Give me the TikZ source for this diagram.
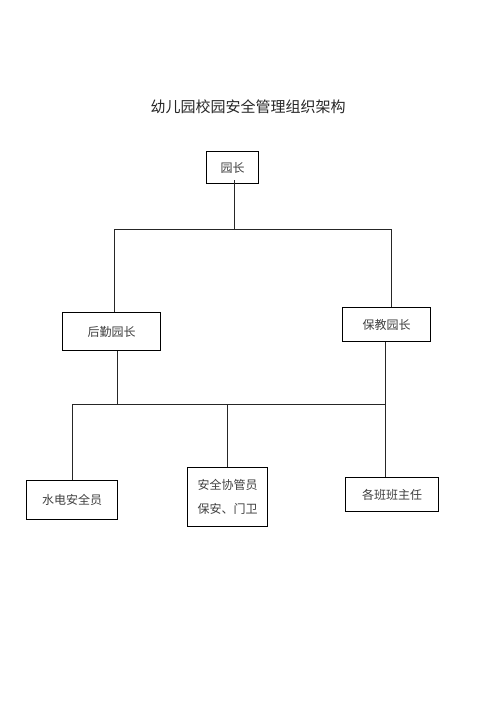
\documentclass[tikz,border=0pt]{standalone}
\usepackage{fontspec}
\newfontfamily\cjk{Noto Sans CJK SC}
\begin{document}
\begin{tikzpicture}[x=1pt,y=-1pt,
  box/.style={draw=black,line width=1.1pt,fill=white,font=\cjk\fontsize{12}{14}\selectfont,text=black!75,inner sep=0pt,anchor=north west},
  ln/.style={draw=black!85,line width=0.9pt}]
\useasboundingbox (0,0) rectangle (496,702);
\node[font=\cjk\fontsize{15}{18}\selectfont,text=black!85] (title) at (248,107) {幼儿园校园安全管理组织架构};
\node[box,minimum width=52pt,minimum height=32pt] (yz) at (206,151) {园长};
\node[box,minimum width=98pt,minimum height=38pt] (hq) at (62,312) {后勤园长};
\node[box,minimum width=88pt,minimum height=34pt] (bj) at (342,307) {保教园长};
\node[box,minimum width=91pt,minimum height=39pt] (sd) at (26,480) {水电安全员};
\node[box,minimum width=80pt,minimum height=59pt,align=center,font=\cjk\fontsize{12}{24}\selectfont] (aq) at (187,467) {安全协管员\\保安、门卫};
\node[box,minimum width=93pt,minimum height=34pt] (bz) at (345,477) {各班班主任};
\coordinate (j1) at (234.5,229);
\coordinate (jl) at (114,229);
\coordinate (jr) at (391,229);
\coordinate (j2) at (117,404);
\coordinate (k1) at (72,404);
\coordinate (k3) at (385,404);
\draw[ln] ([yshift=4pt]j1 |- yz.south) -- (j1);
\draw[ln] (jl) -- (jr);
\draw[ln] (jl) -- (jl |- hq.north);
\draw[ln] (jr) -- (jr |- bj.north);
\draw[ln] (hq.south -| j2) -- (j2);
\draw[ln] (bj.south -| k3) -- (k3);
\draw[ln] (k1) -- (k3);
\draw[ln] (k1) -- (k1 |- sd.north);
\draw[ln] (aq.north |- k1) -- (aq.north);
\draw[ln] (k3) -- (k3 |- bz.north);
\end{tikzpicture}
\end{document}
